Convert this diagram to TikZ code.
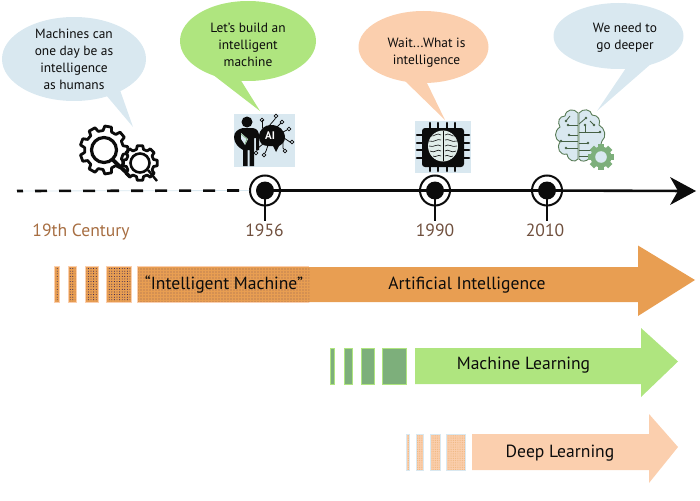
\documentclass[tikz,border=0pt]{standalone}
\usepackage{fontspec}
\setmainfont{PT Sans}
\usetikzlibrary{shapes.geometric,patterns.meta}
\definecolor{skyb}{HTML}{D9E8F0}
\definecolor{leaf}{HTML}{AFE57F}
\definecolor{peach}{HTML}{FBCFAE}
\definecolor{amber}{HTML}{E89E52}
\definecolor{moss}{HTML}{7DAF7B}
\definecolor{inkb}{HTML}{0C0C0C}
\definecolor{rust}{HTML}{A76E42}
\definecolor{umber}{HTML}{70503E}
\newcommand{\gearline}[5]{% cx cy outer inner teeth
  \pgfmathsetmacro{\stepang}{360/#5}
  \draw[gearedge] ({#1+#4*cos(-0.32*\stepang)},{#2+#4*sin(-0.32*\stepang)})
  \foreach \k in {1,...,#5}{
    -- ({#1+#3*cos((\k-1)*\stepang-0.2*\stepang)},{#2+#3*sin((\k-1)*\stepang-0.2*\stepang)})
    -- ({#1+#3*cos((\k-1)*\stepang+0.2*\stepang)},{#2+#3*sin((\k-1)*\stepang+0.2*\stepang)})
    -- ({#1+#4*cos((\k-1)*\stepang+0.32*\stepang)},{#2+#4*sin((\k-1)*\stepang+0.32*\stepang)})
    -- ({#1+#4*cos(\k*\stepang-0.32*\stepang)},{#2+#4*sin(\k*\stepang-0.32*\stepang)})
  } -- cycle;}
\tikzset{
  x=1pt,y=-1pt,
  bubble/.style={ellipse,inner sep=0pt,minimum width=#1},
  say/.style={font=\fontsize{13.4}{17}\selectfont,align=center,text=inkb,inner sep=0pt},
  bar/.style={font=\fontsize{17.6}{20}\selectfont,text=inkb,inner sep=0pt},
  yearlbl/.style={font=\fontsize{17.6}{20}\selectfont,text=#1,inner sep=0pt},
  mile/.style={circle,draw=inkb,line width=2pt,minimum size=30pt,inner sep=0pt},
  core/.style={circle,fill=inkb,minimum size=18pt,inner sep=0pt},
  gearedge/.style={draw=inkb,line width=2.8pt,line join=round},
  wire/.style={draw=inkb,line width=.8pt},
  pad/.style={circle,draw=inkb,line width=.7pt,fill=skyb,minimum size=3.6pt,inner sep=0pt},
  lobe/.style={draw=moss!70!black,line width=.9pt,fill=skyb},
  trace/.style={draw=moss!55!black,line width=.8pt},
}
\begin{document}
\begin{tikzpicture}
\useasboundingbox (0,0) rectangle (700,500);
% speech bubbles
\node[bubble=144pt,minimum height=84pt,fill=skyb] (b1) at (74,59) {};
\fill[skyb] (106,95) -- (133,127) -- (120,90) -- cycle;
\node[say] (t1) at (74,59) {Machines can\\one day be as\\intelligence\hspace{6pt}\\as humans\hspace{6pt}};
\node[bubble=136pt,minimum height=80pt,fill=leaf] (b2) at (248,41) {};
\fill[leaf] (212,74) -- (260,111) -- (240,79) -- cycle;
\node[say] (t2) at (248,45) {Let's build an\\intelligent\\machine};
\node[bubble=130pt,minimum height=72pt,fill=peach] (b3) at (423.5,47) {};
\fill[peach] (404,80) -- (445,120) -- (426,81) -- cycle;
\node[say] (t3) at (426.5,53) {Wait...What is\\intelligence};
\node[bubble=130pt,minimum height=66pt,fill=skyb] (b4) at (618.5,36) {};
\fill[skyb] (626,68) -- (597,111) -- (652,63) -- cycle;
\node[say] (t4) at (625,38) {We need to\\go deeper};
% gears icon
\gearline{104}{150}{24}{19.5}{9}
\draw[inkb,line width=3.2pt] (104,150) circle (12.5);
\draw[inkb,line width=3.8pt] (113,160) -- (130,176);
\fill[white] (140,163) circle (15);
\gearline{140}{163}{17.5}{14}{8}
\draw[inkb,line width=2.6pt] (140,163) circle (9.5);
\draw[inkb,line width=2.4pt] (148,170) -- (157,181);
% person + AI icon
\fill[skyb] (234,114) rectangle (295,167);
\fill[inkb] (247,122) circle (5.5);
\fill[inkb] (243,128) -- (253,128) .. controls (258,129) and (259,132) .. (259,137) -- (259,150) -- (256,150) -- (256,138) -- (254,138) -- (254,166) -- (249.5,166) -- (249.5,150) -- (247.5,150) -- (247.5,166) -- (243,166) -- (243,150) .. controls (238,147) and (234,143) .. (234,137) .. controls (234,132) and (238,129) .. (243,128) -- cycle;
\fill[skyb] (241,133) -- (248,139) -- (245,145) -- (241,139) -- cycle;
\draw[moss,line width=.7pt] (241,134) -- (247,139) -- (245,144);
\fill[inkb] (259,137) .. controls (259,129) and (265,125) .. (271,125) .. controls (279,125) and (285,130) .. (285,138) .. controls (285,142) and (281,145) .. (279,146) -- (276,152) -- (273,146) -- (268,146) .. controls (262,146) and (259,142) .. (259,137) -- cycle;
\node[font=\fontsize{11}{11}\selectfont\bfseries,text=white,inner sep=0pt] (ai) at (270,136) {AI};
\foreach \nm/\ax/\ay/\bx/\by/\cx/\cy in {p1/262/128/262/120/262/120, p2/269/126/275/119/276/116, p3/276/128/281/123/282/122, p4/281/133/287/130/289/129, p5/284/138/290/142/292/142, p6/283/142/283/148/285/151, p7/268/145/266/151/264/155, p8/263/144/258/148/256/153}{
  \node[pad] (\nm) at (\cx,\cy) {};
  \draw[wire] (\ax,\ay) -- (\bx,\by) -- (\nm);
}
% chip icon
\fill[skyb] (415,121) rectangle (471,173);
\foreach \px in {430,438,447,455}{
  \draw[inkb,line width=2.6pt,line cap=round] (\px,123) -- (\px,171);}
\foreach \py in {135,143,150,158}{
  \draw[inkb,line width=2.6pt,line cap=round] (417,\py) -- (469,\py);}
\fill[inkb,rounded corners=3pt] (422,128) rectangle (464,167);
\fill[skyb!70!moss!45!white] (443,146) ellipse (15 and 15.5);
\draw[inkb,line width=.9pt] (443,131) -- (443,161);
\foreach \s in {-1,1}{
  \draw[inkb,line width=.6pt] ({443+\s*2},135) .. controls ({443+\s*6},132) and ({443+\s*9},137) .. ({443+\s*12},136);
  \draw[inkb,line width=.6pt] ({443+\s*2},140) .. controls ({443+\s*6},138) and ({443+\s*8},143) .. ({443+\s*14},141);
  \draw[inkb,line width=.6pt] ({443+\s*2},146) .. controls ({443+\s*6},143) and ({443+\s*9},148) .. ({443+\s*14},146);
  \draw[inkb,line width=.6pt] ({443+\s*2},151) .. controls ({443+\s*6},148) and ({443+\s*8},154) .. ({443+\s*13},151);
  \draw[inkb,line width=.6pt] ({443+\s*2},156) .. controls ({443+\s*5},154) and ({443+\s*7},158) .. ({443+\s*10},156);
}
% brain icon
\path[lobe] (578,113) .. controls (574,108) and (566,109) .. (565,116) .. controls (559,116) and (557,122) .. (560,127)
  .. controls (554,131) and (554,139) .. (560,142) .. controls (556,148) and (560,156) .. (567,154)
  .. controls (568,161) and (575,163) .. (578,159) -- cycle;
\path[lobe] (579,113) .. controls (583,108) and (591,109) .. (592,115) .. controls (598,115) and (601,120) .. (599,125)
  .. controls (605,128) and (607,137) .. (602,141) .. controls (600,150) and (592,152) .. (590,158)
  .. controls (586,162) and (581,162) .. (579,159) -- cycle;
\foreach \ax/\ay/\bx/\by in {578/125/568/125, 570/116/566/121, 578/141/561/141, 578/148/566/148, 578/135/569/135, 579/124/586/118, 579/132/600/132, 585/132/585/125, 579/143/588/143, 579/150/592/150, 579/156/590/156, 590/121/594/125}{
  \draw[trace] (\ax,\ay) -- (\bx,\by);
  \fill[moss!55!black] (\bx,\by) circle (1.3);
}
\fill[moss] (601,157) circle (10.5);
\foreach \a in {0,45,...,315}{\fill[moss,rotate around={\a:(601,157)}] (598,144) rectangle (604,149);}
\fill[skyb] (601,157) circle (5.8);
% timeline
\coordinate (tstart) at (17,191);
\coordinate (tend) at (690,191);
\node[mile] (m0) at (265,190.5) {};
\node[mile] (m1) at (435,190.5) {};
\node[mile] (m2) at (547,190.5) {};
\draw[skyb,line width=.8pt] (tstart) -- (m0.west);
\draw[inkb,line width=2.6pt,dash pattern=on 12pt off 12pt,dash phase=6pt] (tstart) -- (m0.west);
\draw[inkb,line width=2.6pt] (m0.center) -- (m1.center);
\draw[inkb,line width=2.6pt] (m1.center) -- (m2.center);
\draw[inkb,line width=2.6pt] (m2.center) -- (tend);
\fill[inkb] (696,191) -- (670,177) -- (678,191) -- (670,205) -- cycle;
\node[yearlbl=rust,anchor=base] (y0) at (81,236) {19th Century};
\node[yearlbl=umber,anchor=base] (y1) at (264.5,236) {1956};
\node[yearlbl=umber,anchor=base] (y2) at (435,236) {1990};
\node[yearlbl=umber,anchor=base] (y3) at (545,236) {2010};
\foreach \m/\x in {m0/265,m1/435,m2/547}{
  \draw[inkb,line width=1.8pt] (\m.center) -- (\x,221);
  \node[core] at (\m.center) {};
}
% band arrows
\fill[amber] (137,267) -- (638,267) -- (638,245.5) -- (695,280) -- (638,316) -- (638,302) -- (137,302) -- cycle;
\foreach \xa/\xb in {54/59,68/76,85/98,106/131}{
  \fill[amber] (\xa,266.5) rectangle (\xb,302.5);
  \fill[pattern={Dots[distance=2.6pt,radius=.45pt]},pattern color=blue!35!black] (\xa+1,267) rectangle (\xb-1,302);
  \draw[peach,line width=1pt] (\xa,266.5) rectangle (\xb,302.5);
}
\fill[pattern={Dots[distance=3pt,radius=.45pt]},pattern color=blue!35!black] (138,267) rectangle (309,302);
\draw[peach,line width=1pt] (309,302.5) -- (137,302.5) -- (137,266.5) -- (309,266.5);
\node[bar] (lb1) at (224,285) {“Intelligent Machine”};
\node[bar] (lb2) at (467,285) {Artificial Intelligence};
\fill[leaf] (415,348) -- (641,348) -- (641,328) -- (678,361.5) -- (641,397) -- (641,384) -- (415,384) -- cycle;
\foreach \xa/\xb in {330.5/334.5,344.5/352.5,361.5/374,382.5/406.5}{
  \draw[leaf,fill=moss,line width=1pt] (\xa,348.5) rectangle (\xb,384);
}
\node[bar] (lb3) at (523.5,365) {Machine Learning};
\fill[peach] (472,434) -- (649,434) -- (649,414) -- (678,447) -- (649,483) -- (649,470) -- (472,470) -- cycle;
\foreach \xa/\xb in {406.5/409.5,416.5/423.5,430.5/440,446.5/465.5}{
  \fill[peach] (\xa,434.5) rectangle (\xb,470);
  \fill[pattern={Dots[distance=1.8pt,radius=.5pt]},pattern color=amber!75!white] (\xa,434.5) rectangle (\xb,470);
  \draw[skyb,line width=1pt] (\xa,434.5) rectangle (\xb,470);
}
\node[bar] (lb4) at (560,453) {Deep Learning};
\end{tikzpicture}
\end{document}
